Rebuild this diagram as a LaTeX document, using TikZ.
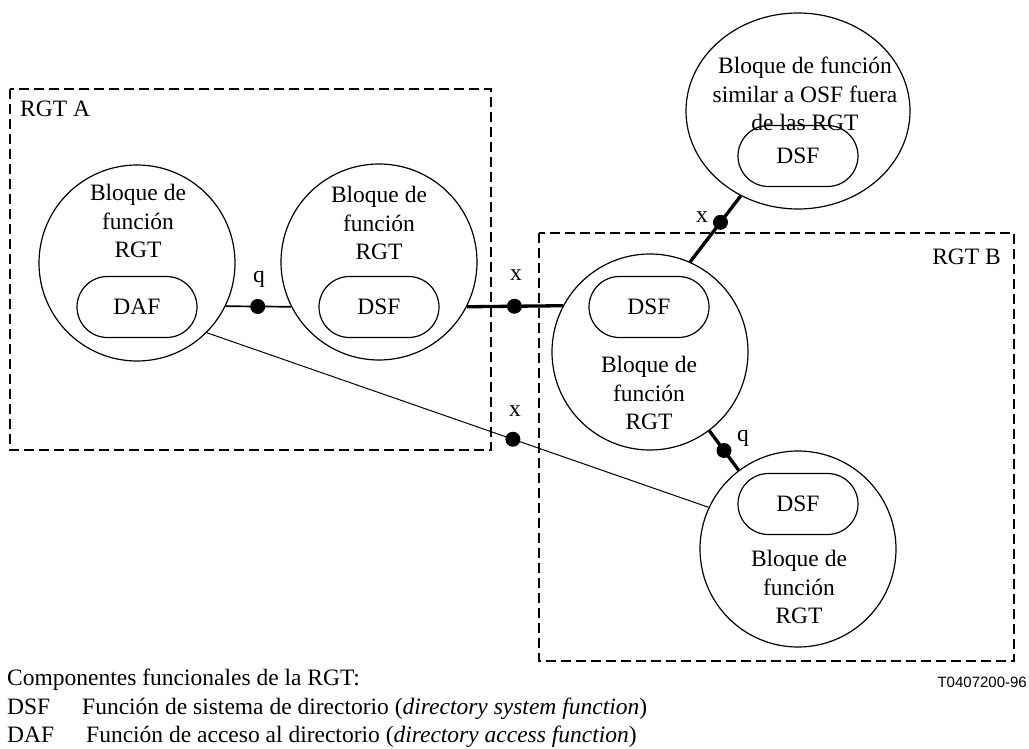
\documentclass[tikz,border=0pt]{standalone}
\usepackage{fontspec}
\setmainfont{Liberation Serif}
\newfontfamily\labelsans{Liberation Sans}
\usetikzlibrary{shapes.geometric,shapes.misc}
\begin{document}
\begin{tikzpicture}[x=1pt,y=-1pt,
  every node/.style={font=\fontsize{23.5}{28.5}\selectfont},
  region/.style={draw,line width=2pt,dash pattern=on 10pt off 5pt},
  block/.style={circle,draw,line width=1.2pt,minimum size=196pt,inner sep=0pt},
  outerblock/.style={ellipse,draw,line width=1.2pt,minimum width=224pt,minimum height=196pt,inner sep=0pt},
  pill/.style={rounded rectangle,draw,line width=1.2pt,minimum width=120pt,minimum height=61pt,inner sep=0pt},
  btext/.style={align=center,inner sep=0pt},
  dot/.style={circle,fill=black,minimum size=15pt,inner sep=0pt},
  thinlink/.style={line width=1pt},
  qlink/.style={line width=1.7pt},
  thicklink/.style={line width=3.3pt},
  lbl/.style={inner sep=0pt},
  legend/.style={anchor=base west,inner sep=0pt}
]
\useasboundingbox (0,0) rectangle (1029,749);

% regions
\draw[region] (10,89) rectangle (491,450);
\draw[region] (539,233) rectangle (1014,661);
\node[lbl,anchor=west] (rgta) at (20,109) {RGT A};
\node[lbl,anchor=east] (rgtb) at (1001,257) {RGT B};

% blocks
\node[block] (c1) at (137,263) {};
\node[block] (c2) at (379,262) {};
\node[block] (c3) at (650,352) {};
\node[block] (c5) at (798,549) {};
\node[outerblock] (e4) at (798,111) {};

% block texts
\node[btext] (t1) at (138,221) {Bloque de\\función\\RGT};
\node[btext] (t2) at (379,223) {Bloque de\\función\\RGT};
\node[btext] (t3) at (649,393) {Bloque de\\función\\RGT};
\node[btext] (t5) at (799,587) {Bloque de\\función\\RGT};
\node[btext] (t4) at (805,94) {Bloque de función\\similar a OSF fuera\\de las RGT};

% inner function pills
\node[pill] (p1) at (137,307) {DAF};
\node[pill] (p2) at (379,307) {DSF};
\node[pill] (p3) at (649,307) {DSF};
\node[pill] (p4) at (798,156) {DSF};
\node[pill] (p5) at (798,504) {DSF};

% connectors with reference points
\draw[qlink] (c1.-26.7) -- (c2.207.3) coordinate[pos=0.49] (q1);
\node[dot] (dq1) at (q1) {};
\node[lbl] (lq1) at (259,279) {q};

\draw[thicklink] (c2.-27.3) -- (c3.152.7) coordinate[pos=0.495] (x1);
\node[dot] (dx1) at (x1) {};
\node[lbl] (lx1) at (516,275) {x};

\draw[thicklink] (c3.66) -- (e4.236.5) coordinate[pos=0.6] (x2);
\node[dot] (dx2) at (x2) {};
\node[lbl] (lx2) at (702,217) {x};

\draw[thicklink] (c3.-53.8) -- (c5.127) coordinate[pos=0.5] (q2);
\node[dot] (dq2) at (q2) {};
\node[lbl] (lq2) at (743,438) {q};

\draw[thinlink] (c1.-45) -- (c5.155) coordinate[pos=0.61] (x3);
\node[dot] (dx3) at (x3) {};
\node[lbl] (lx3) at (515,411) {x};

% legend
\node[legend] (lg0) at (7,685) {Componentes funcionales de la RGT:};
\node[legend] (lg1) at (7,714) {DSF};
\node[legend] (lg1t) at (82,714) {Función de sistema de directorio (\textit{directory system function})};
\node[legend] (lg2) at (7,742) {DAF};
\node[legend] (lg2t) at (86,742) {Función de acceso al directorio (\textit{directory access function})};
\node[anchor=base east,inner sep=0pt,font=\labelsans\fontsize{15}{18}\selectfont] (code) at (1027,687) {T0407200-96};
\end{tikzpicture}
\end{document}
